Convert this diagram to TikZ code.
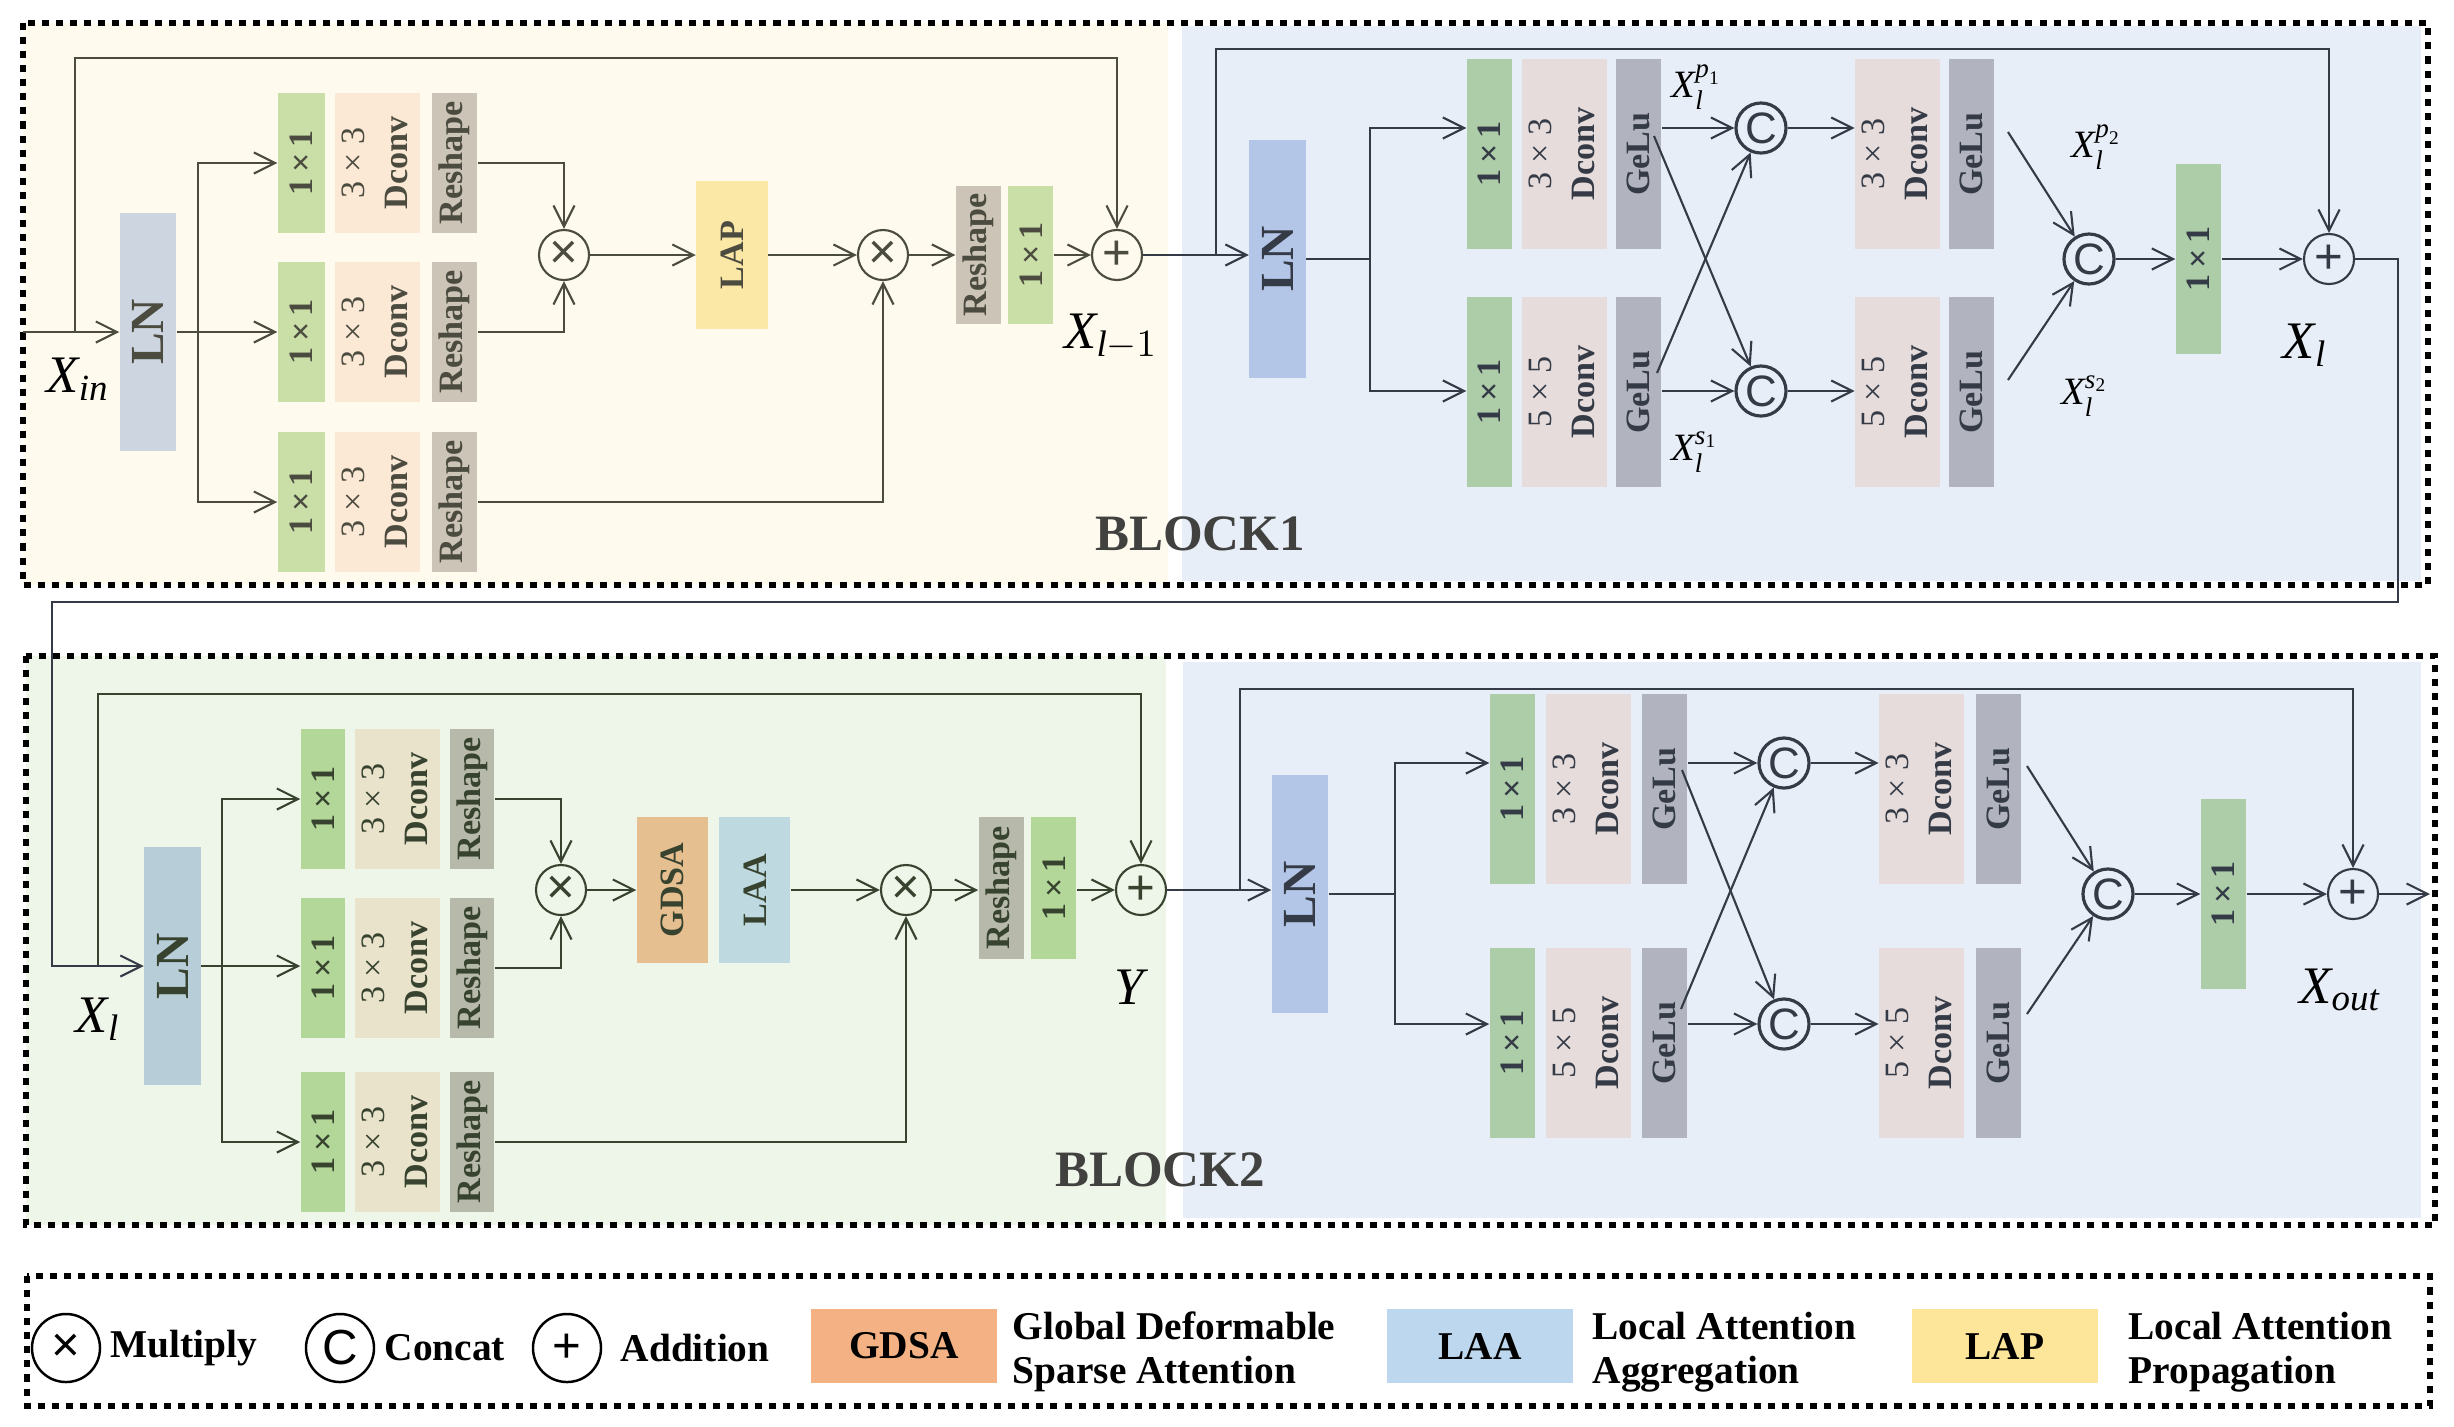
\documentclass[tikz,border=0pt]{standalone}
\usepackage{amsmath}
\usepackage{fontspec}
\usepackage{graphicx}
\setmainfont{Liberation Serif}
\newfontfamily\opfont{Liberation Sans}
\usetikzlibrary{arrows.meta, positioning, calc}
\definecolor{bgyellow}{HTML}{FEFAEE}
\definecolor{bgblue}{HTML}{E8EEF8}
\definecolor{bggreen}{HTML}{EEF5E9}
\definecolor{oneA}{HTML}{C9DFA7}
\definecolor{dconvA}{HTML}{FCE9D5}
\definecolor{reshA}{HTML}{CCC4B7}
\definecolor{lnfillA}{HTML}{CDD6E0}
\definecolor{lapfill}{HTML}{FCE8A6}
\definecolor{oneB}{HTML}{ADCCA8}
\definecolor{dconvB}{HTML}{E6DCDB}
\definecolor{gelufill}{HTML}{B1B4BF}
\definecolor{lnfillB}{HTML}{B4C6E7}
\definecolor{oneC}{HTML}{B3D699}
\definecolor{dconvC}{HTML}{EAE3CC}
\definecolor{reshC}{HTML}{B7BAAA}
\definecolor{lnfillC}{HTML}{B7CED8}
\definecolor{gdsafill}{HTML}{E6BF90}
\definecolor{laafill}{HTML}{BED9DF}
\definecolor{keygdsa}{HTML}{F4B183}
\definecolor{keylaa}{HTML}{BDD7EE}
\definecolor{keylap}{HTML}{FDE699}
\definecolor{inkA}{HTML}{4B4B3F}
\definecolor{inkB}{HTML}{343B46}
\definecolor{inkC}{HTML}{37432F}
\definecolor{blockink}{HTML}{414140}
\newcommand{\boxfont}{\fontsize{9.7}{12}\selectfont}
\newcommand{\vtext}[1]{\rotatebox{90}{#1}}
\newcommand{\dconv}[1]{\rotatebox{90}{\begin{tabular}{@{}c@{}}#1\\\textbf{Dconv}\end{tabular}}}
% italic letters in the text font, for the feature names
\newcommand{\tv}[1]{\text{\itshape #1}}
\begin{document}
\begin{tikzpicture}[x=0.01cm, y=-0.01cm,
  cell/.style={rectangle, inner sep=0pt, font=\boxfont},
  narrow/.style={cell, minimum width=0.45cm},
  wide/.style={cell, minimum width=0.74cm},
  short/.style={minimum height=1.40cm},
  tall/.style={minimum height=1.90cm},
  normbox/.style={cell, minimum width=0.56cm, minimum height=2.37cm, font=\fontsize{13.5}{14}\selectfont\bfseries},
  attnbox/.style={cell, minimum width=0.71cm, minimum height=1.46cm, font=\boxfont\bfseries},
  op/.style={circle, draw, line width=0.6pt, minimum size=0.5cm, inner sep=0pt, font=\opfont\fontsize{14}{14}\selectfont},
  catop/.style={op, line width=0.9pt, font=\opfont\fontsize{12.5}{12.5}\selectfont},
  wire/.style={line width=0.6pt},
  flow/.style={wire, -{Straight Barb[length=6pt, width=6pt]}},
  mlabel/.style={inner sep=0pt, text=black, font=\fontsize{15}{16}\selectfont},
  slabel/.style={inner sep=0pt, text=black, font=\fontsize{11}{12}\selectfont},
  blockname/.style={inner sep=0pt, text=blockink, font=\fontsize{14.5}{15}\selectfont\bfseries},
  dashframe/.style={draw=black, line width=1.5pt, dash pattern=on 2pt off 2pt},
  keyop/.style={circle, draw=black, line width=0.7pt, minimum size=0.68cm, inner sep=0pt, font=\opfont\fontsize{14}{14}\selectfont},
  keybox/.style={rectangle, inner sep=0pt, minimum width=1.86cm, minimum height=0.74cm, font=\fontsize{11.2}{12.5}\selectfont\bfseries},
  keytext/.style={anchor=west, align=left, inner sep=0pt, font=\fontsize{11.2}{12.5}\selectfont\bfseries}
]
  \useasboundingbox (0,0) rectangle (2454,1426);

  % Backgrounds and frames
  \fill[bgyellow] (23,23) rectangle (1168,585);
  \fill[bgblue] (1182,26) rectangle (2421,581);
  \fill[bggreen] (26,656) rectangle (1166,1225);
  \fill[bgblue] (1183,662) rectangle (2421,1218);
  \draw[dashframe] (23,23) rectangle (2428,585);
  \draw[dashframe] (26,656) rectangle (2435,1225);
  \draw[dashframe] (27,1276) rectangle (2430,1406);
  \node[blockname] (blockone) at (1200,534) {BLOCK1};
  \node[blockname] (blocktwo) at (1160,1170) {BLOCK2};

  % BLOCK1 -- left half
  \begin{scope}[color=inkA]
    \node[normbox, fill=lnfillA] (lnA) at (148,332) {\vtext{LN}};
    \foreach \i/\y in {1/163, 2/332, 3/502} {
      \node[narrow, short, fill=oneA, minimum width=0.47cm] (convA\i) at (301.5,\y) {\vtext{\textbf{1\,×\,1}}};
      \node[wide, short, fill=dconvA, minimum width=0.72cm, right=0.09cm of convA\i] (dwA\i) {\dconv{3 × 3}};
      \node[narrow, short, fill=reshA, right=0.11cm of dwA\i] (rsA\i) {\vtext{\textbf{Reshape}}};
    }
    \node[op] (mulA) at (564,255) {×};
    \node[attnbox, fill=lapfill, minimum height=1.47cm] (lap) at (732,255) {\vtext{LAP}};
    \node[op] (mulB) at (883,255) {×};
    \node[narrow, fill=reshA, minimum height=1.38cm] (rsA4) at (978.5,255) {\vtext{\textbf{Reshape}}};
    \node[narrow, fill=oneA, minimum height=1.38cm, right=0.06cm of rsA4] (convA4) {\vtext{\textbf{1\,×\,1}}};
    \node[op] (addA) at (1117,255) {+};
    \node[mlabel] (xin) at (78,379) {$\tv{X}_{\tv{in}}$};
    \node[mlabel] (xprev) at (1111,337) {$\tv{X}_{\tv{l}-1}$};

    \coordinate (xinstart) at (23,332);
    \coordinate (skipA) at (75,332);
    \coordinate (skipAtop) at (75,58);
    \coordinate (forkA) at (198,332);
    \draw[flow] (xinstart) -- (lnA.west);
    \draw[flow] (skipA) -- (skipAtop) -| (addA.north);
    \draw[flow] (lnA.east) -- (convA2.west);
    \draw[flow] (forkA) |- (convA1.west);
    \draw[flow] (forkA) |- (convA3.west);
    \draw[flow] (rsA1.east) -| (mulA.north);
    \draw[flow] (rsA2.east) -| (mulA.south);
    \draw[flow] (mulA) -- (lap);
    \draw[flow] (lap) -- (mulB);
    \draw[flow] (rsA3.east) -| (mulB.south);
    \draw[flow] (mulB) -- (rsA4);
    \draw[flow] (convA4) -- (addA);
  \end{scope}

  % BLOCK1 -- right half
  \begin{scope}[color=inkB]
    \node[normbox, fill=lnfillB, minimum height=2.38cm] (lnB) at (1277.5,259) {\vtext{LN}};
    \coordinate (rowB1) at (0,128);
    \coordinate (rowB2) at (0,391);
    \foreach \i/\y/\sz in {1/154/3, 2/392/5} {
      \node[narrow, tall, fill=oneB] (convB\i) at (1489.5,\y) {\vtext{\textbf{1\,×\,1}}};
      \node[wide, tall, fill=dconvB, right=0.09cm of convB\i] (dwB\i) {\dconv{\sz{} × \sz}};
      \node[narrow, tall, fill=gelufill, right=0.08cm of dwB\i] (geB\i) {\vtext{\textbf{GeLu}}};
      \node[wide, tall, fill=dconvB] (mixB\i) at (1897.5,\y) {\dconv{\sz{} × \sz}};
      \node[narrow, tall, fill=gelufill, right=0.08cm of mixB\i] (actB\i) {\vtext{\textbf{GeLu}}};
    }
    \node[catop] (catB1) at (1761,128) {C};
    \node[catop] (catB2) at (1761,391) {C};
    \node[catop] (catB3) at (2089,259) {C};
    \node[narrow, fill=oneB, minimum height=1.89cm] (convB3) at (2198.5,259) {\vtext{\textbf{1\,×\,1}}};
    \node[op] (addB) at (2329,259) {+};
    \node[slabel] (xp1) at (1697,87) {$\tv{X}_{\tv{l}}^{\tv{p}_{\text{1}}}$};
    \node[slabel] (xs1) at (1695,452) {$\tv{X}_{\tv{l}}^{\tv{s}_{\text{1}}}$};
    \node[slabel] (xp2) at (2097,147) {$\tv{X}_{\tv{l}}^{\tv{p}_{\text{2}}}$};
    \node[slabel] (xs2) at (2085,396) {$\tv{X}_{\tv{l}}^{\tv{s}_{\text{2}}}$};
    \node[mlabel] (xlone) at (2305,345) {$\tv{X}_{\tv{l}}$};

    \coordinate (skipB) at (1216,255);
    \coordinate (skipBtop) at (1216,49);
    \coordinate (forkB) at (1370,259);
    \coordinate (crossB1) at (1654,136);
    \coordinate (crossB2) at (1657,373);
    \coordinate (mergeB1) at (2008,132);
    \coordinate (mergeB2) at (2008,380);
    \draw[flow] (addA) -- (addA -| lnB.west);
    \draw[flow] (skipB) -- (skipBtop) -| (addB.north);
    \draw[wire] (lnB.east) -- (forkB);
    \draw[flow] (forkB) |- (convB1.west |- rowB1);
    \draw[flow] (forkB) |- (convB2.west |- rowB2);
    \draw[flow] (geB1.east |- catB1) -- (catB1);
    \draw[flow] (geB2.east |- catB2) -- (catB2);
    \draw[flow] (crossB1) -- (catB2);
    \draw[flow] (crossB2) -- (catB1);
    \draw[flow] (catB1) -- (catB1 -| mixB1.west);
    \draw[flow] (catB2) -- (catB2 -| mixB2.west);
    \draw[flow] (mergeB1) -- (catB3);
    \draw[flow] (mergeB2) -- (catB3);
    \draw[flow] (catB3) -- (convB3);
    \draw[flow] (convB3) -- (addB);

    % link to BLOCK2
    \coordinate (linkA) at (2398,259);
    \coordinate (linkB) at (2398,602);
    \coordinate (linkC) at (52,602);
  \end{scope}

  % BLOCK2 -- left half
  \begin{scope}[color=inkC]
    \node[normbox, fill=lnfillC] (lnC) at (172.5,966) {\vtext{LN}};
    \foreach \i/\y in {1/799, 2/968, 3/1142} {
      \node[narrow, short, fill=oneC, minimum width=0.44cm] (convC\i) at (323,\y) {\vtext{\textbf{1\,×\,1}}};
      \node[wide, short, fill=dconvC, right=0.09cm of convC\i] (dwC\i) {\dconv{3 × 3}};
      \node[narrow, short, fill=reshC, minimum width=0.44cm, right=0.09cm of dwC\i] (rsC\i) {\vtext{\textbf{Reshape}}};
    }
    \node[op] (mulC) at (561,890) {×};
    \node[attnbox, fill=gdsafill] (gdsa) at (672.5,890) {\vtext{GDSA}};
    \node[attnbox, fill=laafill, right=0.10cm of gdsa] (laa) {\vtext{LAA}};
    \node[op] (mulD) at (906,890) {×};
    \node[narrow, fill=reshC, minimum height=1.41cm] (rsC4) at (1001.5,888) {\vtext{\textbf{Reshape}}};
    \node[narrow, fill=oneC, minimum height=1.41cm, right=0.06cm of rsC4] (convC4) {\vtext{\textbf{1\,×\,1}}};
    \node[op] (addC) at (1141,890) {+};
    \node[mlabel] (xltwo) at (98,1019) {$\tv{X}_{\tv{l}}$};
    \node[mlabel] (yout) at (1129,987) {$\tv{Y}$};

    \coordinate (skipC) at (98,966);
    \coordinate (skipCtop) at (98,694);
    \coordinate (forkC) at (222,966);
    \draw[flow] (skipC) -- (skipCtop) -| (addC.north);
    \draw[flow] (lnC.east) -- (lnC.east -| convC2.west);
    \draw[flow] (forkC) |- (convC1.west);
    \draw[flow] (forkC) |- (convC3.west);
    \draw[flow] (rsC1.east) -| (mulC.north);
    \draw[flow] (rsC2.east) -| (mulC.south);
    \draw[flow] (mulC) -- (gdsa);
    \draw[flow] (laa) -- (mulD);
    \draw[flow] (rsC3.east) -| (mulD.south);
    \draw[flow] (mulD) -- (mulD -| rsC4.west);
    \draw[flow] (convC4.east |- addC) -- (addC);
  \end{scope}

  \draw[flow, color=inkB] (addB) -- (linkA) -- (linkB) -- (linkC) |- (lnC.west);

  % BLOCK2 -- right half
  \begin{scope}[color=inkB]
    \node[normbox, fill=lnfillB, minimum height=2.38cm] (lnD) at (1300,894) {\vtext{LN}};
    \coordinate (rowD1) at (0,763);
    \coordinate (rowD2) at (0,1024);
    \foreach \i/\y/\sz in {1/789/3, 2/1043/5} {
      \node[narrow, tall, fill=oneB] (convD\i) at (1512.5,\y) {\vtext{\textbf{1\,×\,1}}};
      \node[wide, tall, fill=dconvB, right=0.10cm of convD\i] (dwD\i) {\dconv{\sz{} × \sz}};
      \node[narrow, tall, fill=gelufill, right=0.10cm of dwD\i] (geD\i) {\vtext{\textbf{GeLu}}};
      \node[wide, tall, fill=dconvB] (mixD\i) at (1921.5,\y) {\dconv{\sz{} × \sz}};
      \node[narrow, tall, fill=gelufill, right=0.11cm of mixD\i] (actD\i) {\vtext{\textbf{GeLu}}};
    }
    \node[catop] (catD1) at (1784,763) {C};
    \node[catop] (catD2) at (1784,1024) {C};
    \node[catop] (catD3) at (2108,894) {C};
    \node[narrow, fill=oneB, minimum height=1.89cm] (convD3) at (2223.5,894) {\vtext{\textbf{1\,×\,1}}};
    \node[op] (addD) at (2353,894) {+};
    \node[mlabel] (xout) at (2340,990) {$\tv{X}_{\tv{out}}$};

    \coordinate (skipD) at (1240,890);
    \coordinate (skipDtop) at (1240,689);
    \coordinate (forkD) at (1395,894);
    \coordinate (crossD1) at (1682,770);
    \coordinate (crossD2) at (1681,1009);
    \coordinate (mergeD1) at (2027,766);
    \coordinate (mergeD2) at (2027,1014);
    \coordinate (xend) at (2430,894);
    \draw[flow] (addC) -- (addC -| lnD.west);
    \draw[flow] (skipD) -- (skipDtop) -| (addD.north);
    \draw[wire] (lnD.east) -- (forkD);
    \draw[flow] (forkD) |- (convD1.west |- rowD1);
    \draw[flow] (forkD) |- (convD2.west |- rowD2);
    \draw[flow] (geD1.east |- catD1) -- (catD1);
    \draw[flow] (geD2.east |- catD2) -- (catD2);
    \draw[flow] (crossD1) -- (catD2);
    \draw[flow] (crossD2) -- (catD1);
    \draw[flow] (catD1) -- (catD1 -| mixD1.west);
    \draw[flow] (catD2) -- (catD2 -| mixD2.west);
    \draw[flow] (mergeD1) -- (catD3);
    \draw[flow] (mergeD2) -- (catD3);
    \draw[flow] (catD3) -- (convD3);
    \draw[flow] (convD3) -- (addD);
    \draw[flow] (addD) -- (xend);
  \end{scope}

  % Legend
  \node[keyop] (kmul) at (66,1348) {×};
  \node[keytext] (kmultext) at (110,1348) {Multiply};
  \node[keyop] (kcat) at (340,1348) {C};
  \node[keytext] (kcattext) at (384,1348) {Concat};
  \node[keyop] (kadd) at (567,1348) {+};
  \node[keytext] (kaddtext) at (620,1348) {Addition};
  \node[keybox, fill=keygdsa] (kgdsa) at (904,1346) {GDSA};
  \node[keytext] (kgdsatext) at (1012,1352) {Global Deformable\\Sparse Attention};
  \node[keybox, fill=keylaa] (klaa) at (1480,1346) {LAA};
  \node[keytext] (klaatext) at (1592,1352) {Local Attention\\Aggregation};
  \node[keybox, fill=keylap] (klap) at (2005,1346) {LAP};
  \node[keytext] (klaptext) at (2128,1352) {Local Attention\\Propagation};
\end{tikzpicture}
\end{document}
